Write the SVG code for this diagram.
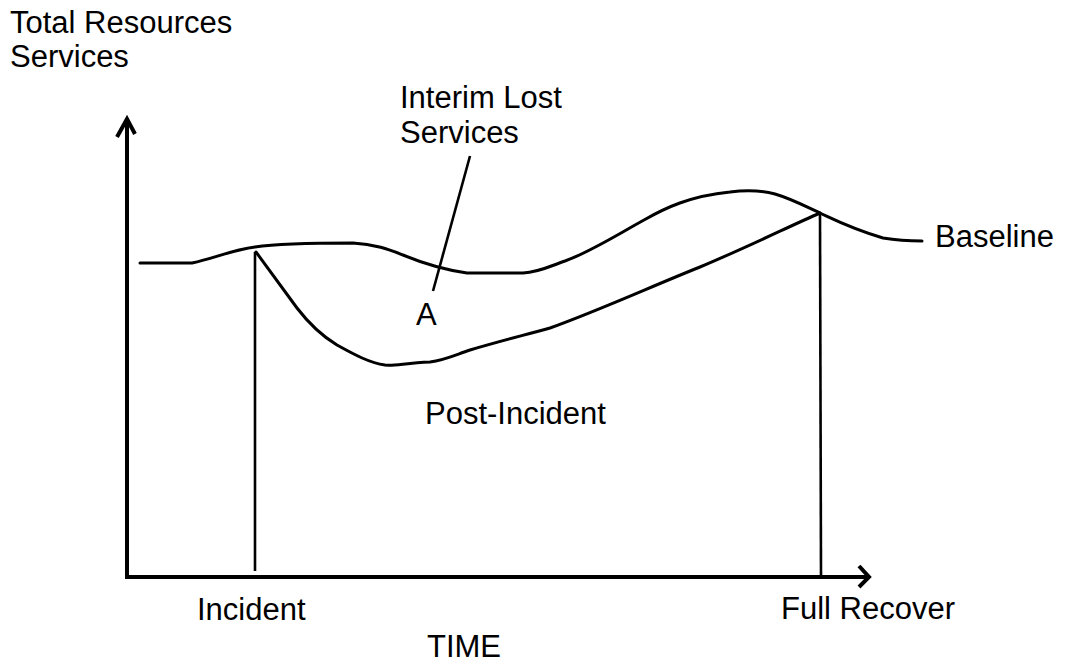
<svg xmlns="http://www.w3.org/2000/svg" width="1071" height="662" viewBox="0 0 1071 662">
<style>
text{font-family:"Liberation Sans",Arial,sans-serif;font-size:31px;fill:#000}
.axis{stroke:#000;stroke-width:4;fill:none;stroke-linejoin:miter}
.curve{stroke:#000;stroke-width:3;fill:none;stroke-linejoin:round;stroke-linecap:round}
.thin{stroke:#000;stroke-width:2.6;fill:none}
</style>
<rect width="1071" height="662" fill="#fff"/>
<g id="connectors">
<path id="y-axis" class="axis" d="M127,579 L127,121"/>
<path class="axis" d="M117,137 L127,119 L135,134"/>
<path id="x-axis" class="axis" d="M125,577 L868,577"/>
<path class="axis" d="M859,566 L869,577 L859,587"/>
<path id="incident-line" class="thin" d="M255,252 L255,571"/>
<path id="recover-line" class="thin" d="M820,213 L821,577"/>
<path id="leader" class="thin" d="M470,156 L433,291"/>
</g>
<g id="baseline-curve">
<path class="curve" d="M140,263 L192,263 C215,258 232,250 255,247 C275,244 300,243 353,243 C375,244 390,250 403,255 C420,262 440,269 467,273 L523,273 C540,272 550,266 565,261 C590,252 615,236 644,220 C665,208 690,196 730,192 C745,190 760,190 775,194 C795,200 808,208 820,213 C835,220 850,228 883,238 C895,240 910,241 922,241"/>
</g>
<g id="post-incident-curve">
<path class="curve" d="M256,252 L297,308 C310,325 322,336 337,345 C355,355 370,363 385,365 C395,366 405,363 430,362 C445,360 455,355 470,350 C500,341 525,335 550,328 C600,310 650,287 700,267 C750,246 790,226 820,213"/>
</g>
<g id="label-yaxis">
<text x="10" y="33">Total Resources</text>
<text x="10" y="67">Services</text>
</g>
<g id="label-interim">
<text x="400" y="108">Interim Lost</text>
<text x="400" y="143">Services</text>
</g>
<g id="label-a"><text x="416" y="325">A</text></g>
<g id="label-baseline"><text x="935" y="247">Baseline</text></g>
<g id="label-post"><text x="425" y="424">Post-Incident</text></g>
<g id="label-incident"><text x="197" y="620">Incident</text></g>
<g id="label-full"><text x="781" y="619">Full Recover</text></g>
<g id="label-time"><text x="427" y="657">TIME</text></g>
</svg>
